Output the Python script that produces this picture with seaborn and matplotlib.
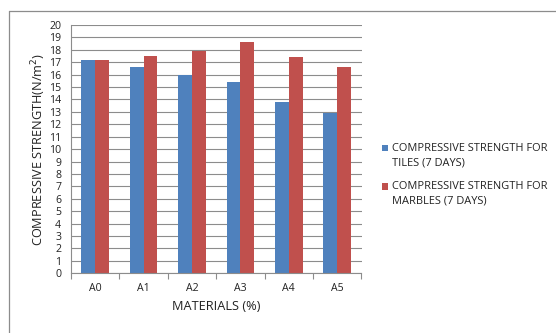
import matplotlib
matplotlib.use("Agg")
import matplotlib.pyplot as plt
from matplotlib.lines import Line2D
from matplotlib.patches import Patch, Rectangle
from matplotlib.legend_handler import HandlerPatch
import seaborn as sns
import pandas as pd

materials = ["A0", "A1", "A2", "A3", "A4", "A5"]
tiles_7d = [17.2, 16.6, 16.0, 15.4, 13.8, 12.9]
marbles_7d = [17.2, 17.5, 17.9, 18.6, 17.4, 16.6]
series_names = ["COMPRESSIVE STRENGTH FOR\nTILES (7 DAYS)",
                "COMPRESSIVE STRENGTH FOR\nMARBLES (7 DAYS)"]
colors = ["#4F81BD", "#C0504D"]

df = pd.DataFrame({
    "material": materials * 2,
    "strength": tiles_7d + marbles_7d,
    "series": [series_names[0]] * len(materials) + [series_names[1]] * len(materials),
})

sns.set_theme(style="white")
plt.rcParams["font.family"] = ["Open Sans", "DejaVu Sans"]

W, H = 556, 333
fig = plt.figure(figsize=(W / 100, H / 100), dpi=100)
ax = fig.add_axes([71 / W, 1 - 273.3 / H, (361.5 - 71) / W, (273.3 - 25) / H])

sns.barplot(data=df, x="material", y="strength", hue="series", order=materials,
            hue_order=series_names, palette=colors, width=0.57, saturation=1,
            edgecolor="none", legend=False, ax=ax)

ax.set_ylim(0, 20)
ax.set_yticks(range(0, 21))
ax.set_xlim(-0.5, len(materials) - 0.5)
ax.yaxis.grid(True, color="#8c8c8c", linewidth=0.8)
ax.set_axisbelow(True)
for s in ["top", "right"]:
    ax.spines[s].set_visible(False)
for s in ["left", "bottom"]:
    ax.spines[s].set_color("#8c8c8c")
    ax.spines[s].set_linewidth(0.8)

ax.tick_params(axis="both", labelsize=7.6, colors="#8c8c8c", labelcolor="#222222",
               length=4, width=0.8, direction="out")
ax.tick_params(axis="y", pad=3)
ax.tick_params(axis="x", pad=7)
ax.set_xticks([i - 0.5 for i in range(len(materials) + 1)], minor=True)
ax.tick_params(axis="x", which="major", length=0)
ax.tick_params(axis="x", which="minor", length=4, width=0.8, colors="#8c8c8c")
ax.xaxis.set_tick_params(which="minor", bottom=True)

ax.set_xlabel("MATERIALS (%)", fontsize=9.2, color="#222222", labelpad=4)
ax.set_ylabel("COMPRESSIVE STRENGTH(N/m$^2$)", fontsize=9.2, color="#222222", labelpad=1)


class FirstLineSquare(HandlerPatch):
    """Legend square aligned with the first line of a two-line label."""

    def __init__(self, lift, **kw):
        super().__init__(**kw)
        self.lift = lift

    def create_artists(self, legend, orig_handle, xdescent, ydescent, width, height,
                       fontsize, trans):
        p = Rectangle((-xdescent, -ydescent + self.lift), width, height,
                      facecolor=orig_handle.get_facecolor(), edgecolor="none",
                      transform=trans)
        return [p]


handles = [Patch(facecolor=c, edgecolor="none") for c in colors]
handler = FirstLineSquare(lift=5.4)
leg = fig.legend(handles, series_names, loc="upper left",
                 bbox_to_anchor=(380 / W, 1 - 140.5 / H),
                 frameon=False, fontsize=7.9, handlelength=0.5, handleheight=0.5,
                 handletextpad=0.42, labelspacing=1.12, labelcolor="#222222",
                 borderaxespad=0, borderpad=0.2,
                 handler_map={h: handler for h in handles})
for t in leg.get_texts():
    t.set_linespacing(1.5)

# Partial chart frame on the left and top edges
fig.add_artist(Line2D([9 / W, 1], [1 - 11 / H, 1 - 11 / H], transform=fig.transFigure,
                      color="#8c8c8c", linewidth=0.9))
fig.add_artist(Line2D([9 / W, 9 / W], [0, 1 - 11 / H], transform=fig.transFigure,
                      color="#8c8c8c", linewidth=0.9))

fig.savefig("out.png", dpi=100)
